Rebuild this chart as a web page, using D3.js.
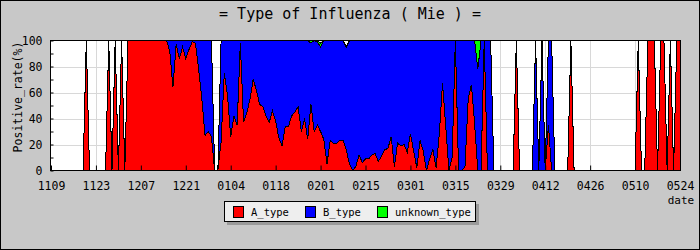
<!DOCTYPE html>
<html><head><meta charset="utf-8">
<script src="https://cdn.jsdelivr.net/npm/d3@7/dist/d3.min.js"></script>
<style>html,body{margin:0;padding:0;background:#c8c8c8;}svg{display:block;}</style>
</head><body>
<svg id="chart" width="700" height="250"></svg>
<script>
const title = "= Type of Influenza ( Mie ) =";
const yTitle = "Positive_rate(%)";
const xTitle = "date";
const tickLabels = ["1109","1123","1207","1221","0104","0118","0201","0215","0301","0315","0329","0412","0426","0510","0524"];
const tickStep = 14;
const yTicks = [0,20,40,60,80,100];
const yMinorTicks = [10,30,50,70,90];
const seriesNames = ["A_type","B_type","unknown_type"];
const seriesColors = ["#ff0000","#0000ff","#00ff00"];

// daily values, 1109 .. 0524
const typeA = [
0,0,0,0,0,0,0,0,0,0,
0,100,0,0,0,0,0,0,100,0,
100,0,100,0,100,100,100,100,100,100,
100,100,100,100,100,100,100,92,64,97,
86,95,86,93,99,98,78,55,27,30,
26,0,0,22,75,58,26,42,35,98,
37,44,55,70,62,51,49,42,37,46,
38,25,19,34,34,42,45,49,30,40,
24,51,30,35,30,24,5,23,21,21,
23,23,16,5,0,3,12,6,9,9,
12,13,7,11,16,17,26,3,21,19,
20,14,28,15,2,23,15,0,9,16,
2,28,67,34,0,10,100,0,0,3,
55,66,36,0,0,100,0,0,0,0,
0,0,0,0,0,100,0,0,0,0,
0,0,0,0,0,35,0,0,0,0,
0,0,100,0,0,0,0,0,0,0,
0,0,0,0,0,0,0,0,0,0,
0,0,0,100,0,0,100,100,100,0,
100,100,0,100,0,100,100];
const typeB = [
0,0,0,0,0,0,0,0,0,0,
0,0,0,0,0,0,0,0,0,0,
0,0,0,0,0,0,0,0,0,0,
0,0,0,0,0,0,0,8,36,3,
14,5,14,7,1,2,22,45,73,70,
74,0,0,78,25,42,74,58,65,2,
63,56,45,30,38,49,51,58,63,54,
62,75,81,66,66,58,55,51,70,60,
76,47,70,64,65,76,95,77,79,79,
77,77,79,95,100,97,88,94,91,91,
88,87,93,89,84,83,74,97,79,81,
80,86,72,85,98,77,85,100,91,84,
98,72,33,66,100,90,0,100,100,97,
45,34,64,78,100,0,100,100,0,0,
0,0,0,0,0,0,0,0,0,0,
0,100,0,100,0,65,100,0,0,0,
0,0,0,0,0,0,0,0,0,0,
0,0,0,0,0,0,0,0,0,0,
0,0,0,0,0,0,0,0,0,0,
0,0,0,0,0,0,0];
const typeU = [
0,0,0,0,0,0,0,0,0,0,
0,0,0,0,0,0,0,0,0,0,
0,0,0,0,0,0,0,0,0,0,
0,0,0,0,0,0,0,0,0,0,
0,0,0,0,0,0,0,0,0,0,
0,0,0,0,0,0,0,0,0,0,
0,0,0,0,0,0,0,0,0,0,
0,0,0,0,0,0,0,0,0,0,
0,2,0,1,3,0,0,0,0,0,
0,0,0,0,0,0,0,0,0,0,
0,0,0,0,0,0,0,0,0,0,
0,0,0,0,0,0,0,0,0,0,
0,0,0,0,0,0,0,0,0,0,
0,0,0,22,0,0,0,0,0,0,
0,0,0,0,0,0,0,0,0,0,
0,0,0,0,0,0,0,0,0,0,
0,0,0,0,0,0,0,0,0,0,
0,0,0,0,0,0,0,0,0,0,
0,0,0,0,0,0,0,0,0,0,
0,0,0,0,0,0,0];

const FONT = "'DejaVu Sans Mono', monospace";
const W = 700, H = 250;
const L = 51, R = 680, T = 40.5, B = 170.5;

const svg = d3.select("#chart");
svg.append("rect").attr("x",0.5).attr("y",0.5).attr("width",W-1).attr("height",H-1)
  .attr("fill","#c8c8c8").attr("stroke","#000");

const x = d3.scaleLinear().domain([0, typeA.length-1]).range([L, R]);
const y = d3.scaleLinear().domain([0, 100]).range([B, T]);

svg.append("rect").attr("x",50.5).attr("y",T).attr("width",630).attr("height",B-T).attr("fill","#fff");

const tickDays = tickLabels.map((_,k)=>k*tickStep);

const grid = svg.append("g").attr("stroke","#d8d8d8").attr("stroke-width",1).attr("shape-rendering","crispEdges");
grid.selectAll("line.h").data(yTicks.filter(v=>v>0&&v<100)).join("line")
  .attr("x1",L).attr("x2",R).attr("y1",d=>Math.round(y(d))+0.5).attr("y2",d=>Math.round(y(d))+0.5);
grid.selectAll("line.v").data(tickDays.slice(1,-1)).join("line")
  .attr("x1",d=>Math.round(x(d))+0.5).attr("x2",d=>Math.round(x(d))+0.5).attr("y1",T).attr("y2",B);

const rows = typeA.map((a,i)=>({i:i, A_type:a, B_type:typeB[i], unknown_type:typeU[i]}));
const stacked = d3.stack().keys(seriesNames)(rows);

const area = d3.area().x(d=>x(d.data.i)).y0(d=>y(d[0])).y1(d=>y(d[1]));
const line = d3.line().x(d=>x(d.data.i)).y(d=>y(d[1]));

svg.append("g").attr("shape-rendering","crispEdges").selectAll("path").data(stacked).join("path")
  .attr("d",area).attr("fill",(d,k)=>seriesColors[k]).attr("stroke","none");
svg.append("g").attr("shape-rendering","crispEdges").selectAll("path").data(stacked).join("path")
  .attr("d",line).attr("fill","none").attr("stroke","#000").attr("stroke-width",1);

svg.append("rect").attr("x",50.5).attr("y",T).attr("width",630).attr("height",B-T)
  .attr("fill","none").attr("stroke","#000");

const xAxis = d3.axisBottom(x).tickValues(tickDays).tickFormat((d,k)=>tickLabels[k])
  .tickSizeInner(-5).tickSizeOuter(0).tickPadding(11);
const gx = svg.append("g").attr("transform",`translate(0,${B})`).call(xAxis);
gx.select(".domain").remove();
gx.selectAll("text").attr("font-family",FONT).attr("font-size","11.5px").attr("fill","#000");

const yAxis = d3.axisLeft(y).tickValues(yTicks).tickSizeInner(-3).tickSizeOuter(0).tickPadding(8);
const gy = svg.append("g").attr("transform",`translate(50.5,0)`).call(yAxis);
gy.select(".domain").remove();
gy.selectAll("text").attr("font-family",FONT).attr("font-size","11.5px").attr("fill","#000");
const gy2 = svg.append("g").attr("transform",`translate(50.5,0)`)
  .call(d3.axisLeft(y).tickValues(yMinorTicks).tickSizeInner(-3).tickSizeOuter(0).tickFormat(""));
gy2.select(".domain").remove();

svg.append("text").attr("x",350).attr("y",19).attr("text-anchor","middle")
  .attr("font-family",FONT).attr("font-size","15px").text(title);
svg.append("text").attr("transform","translate(22,97) rotate(-90)").attr("text-anchor","middle")
  .attr("font-family",FONT).attr("font-size","11.5px").text(yTitle);
svg.append("text").attr("x",681).attr("y",204).attr("text-anchor","middle")
  .attr("font-family",FONT).attr("font-size","11px").text(xTitle);

const lg = svg.append("g");
lg.append("rect").attr("x",227).attr("y",204).attr("width",252).attr("height",21).attr("fill","#9a9a9a");
lg.append("rect").attr("x",224.5).attr("y",201.5).attr("width",251).attr("height",20).attr("fill","#eeeeee").attr("stroke","#000");
const legendX = [233, 305, 377];
const items = lg.selectAll("g.item").data(seriesNames).join("g").attr("transform",(d,k)=>`translate(${legendX[k]},0)`);
items.append("rect").attr("x",0.5).attr("y",206.5).attr("width",10).attr("height",11)
  .attr("fill",(d,k)=>seriesColors[k]).attr("stroke","#000");
items.append("text").attr("x",18).attr("y",216).attr("font-family",FONT).attr("font-size","10.5px").text(d=>d);
</script>
</body></html>
